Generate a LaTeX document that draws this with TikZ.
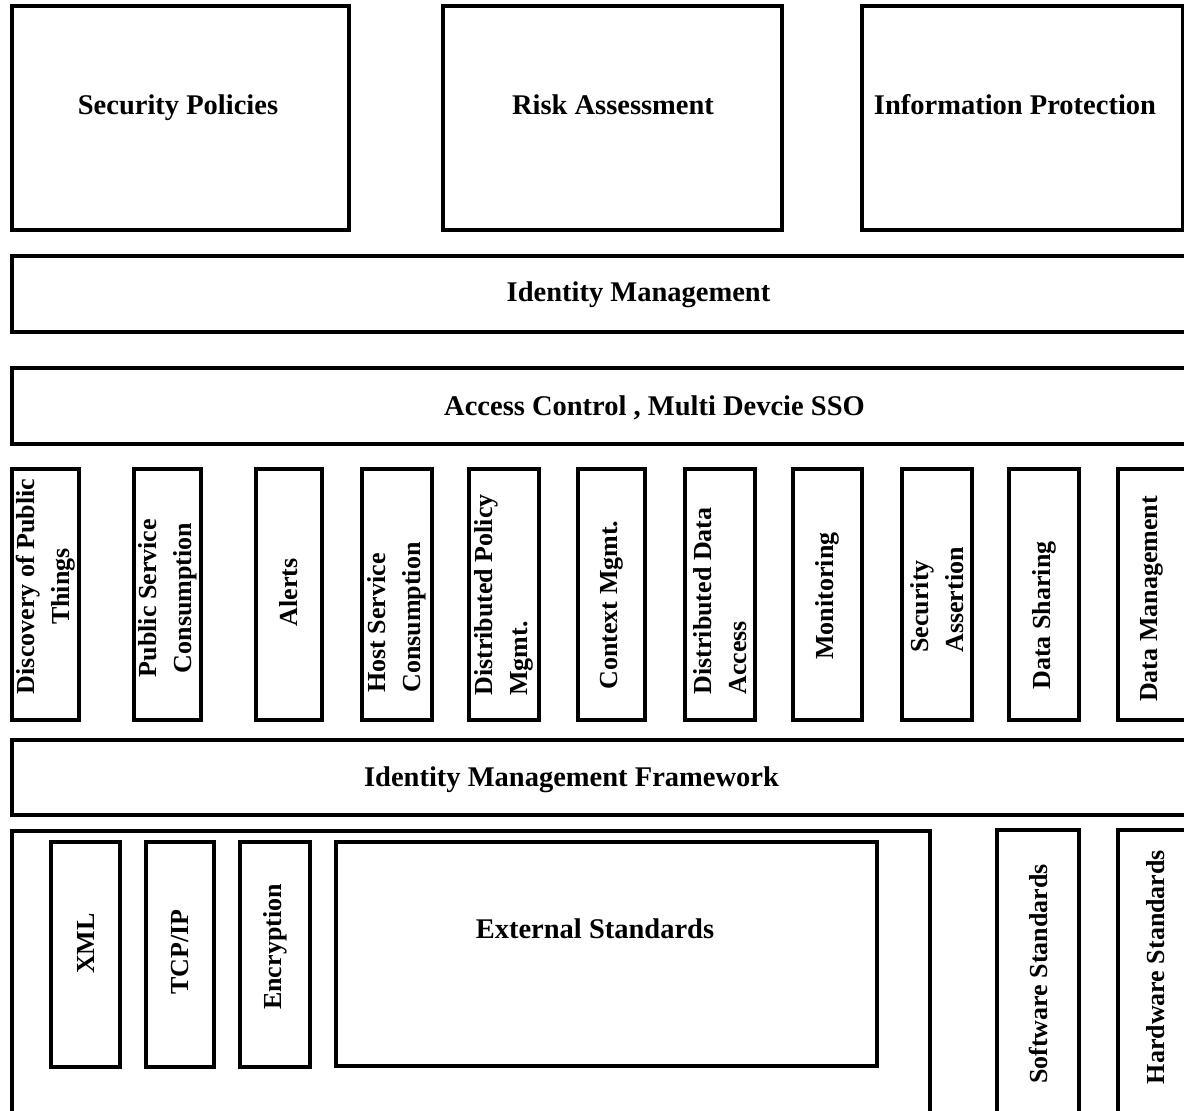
\documentclass[tikz,border=0pt]{standalone}
\usepackage{fontspec}
\setmainfont{Liberation Serif}
\newcommand\mybox[5]{\node[box, minimum width={#4-#2}, minimum height={#5-#3}] (#1) at ({(#2+#4)/2},{(#3+#5)/2}) {};}
\tikzset{
  box/.style={draw=black, line width=3.2pt, rectangle, inner sep=0pt, outer sep=0pt},
  htxt/.style={font=\bfseries\fontsize{28.5}{34}\selectfont, inner sep=0pt, anchor=base},
  vtxt/.style={font=\bfseries\fontsize{26}{35}\selectfont, inner sep=0pt, rotate=90, align=center},
  vtxtl/.style={vtxt, align=left}
}
\begin{document}
\begin{tikzpicture}[x=1pt,y=-1pt]
\useasboundingbox (0,0) rectangle (1184,1111);
\clip (0,0) rectangle (1184,1111);
\fill[white] (0,0) rectangle (1184,1111);
% top boxes
\mybox{sp}{12}{6}{349}{230}
\mybox{ra}{443}{6}{782}{230}
\mybox{ip}{862}{6}{1183}{230}
\node[htxt] (tsp) at (178,114) {Security Policies};
\node[htxt] (tra) at (613,114) {Risk Assessment};
\node[htxt] (tip) at (1015,114) {Information Protection};
% bands
\mybox{im}{12}{256}{1200}{332}
\node[htxt] (tim) at (638.5,301) {Identity Management};
\mybox{ac}{12}{368}{1200}{444}
\node[htxt] (tac) at (654.5,415) {Access Control , Multi Devcie SSO};
% vertical services
\mybox{v1}{12}{469}{79}{720}
\mybox{v2}{134}{469}{201}{720}
\mybox{v3}{256}{469}{322}{720}
\mybox{v4}{362}{469}{432}{720}
\mybox{v5}{469}{469}{539}{720}
\mybox{v6}{578}{469}{645}{720}
\mybox{v7}{685}{469}{755}{720}
\mybox{v8}{793}{469}{862}{720}
\mybox{v9}{902}{469}{972}{720}
\mybox{v10}{1009}{469}{1079}{720}
\mybox{v11}{1118}{469}{1186}{720}
\node[vtxt] (tv1) at (46,586.5) {Discovery of Public\\Things};
\node[vtxt] (tv2) at (167.5,598) {Public Service\\Consumption};
\node[vtxt] (tv3) at (289,592.5) {Alerts};
\node[vtxtl] (tv4) at (397,617.5) {Host Service\\Consumption};
\node[vtxtl] (tv5) at (504,595) {Distributed Policy\\Mgmt.};
\node[vtxt] (tv6) at (611.5,605) {Context Mgmt.};
\node[vtxtl] (tv7) at (720,601) {Distributed Data\\Access};
\node[vtxt] (tv8) at (827.5,596) {Monitoring};
\node[vtxtl] (tv9) at (937,600) {Security\\Assertion};
\node[vtxt] (tv10) at (1044,615.5) {Data Sharing};
\node[vtxt] (tv11) at (1152,599) {Data Management};
% framework band
\mybox{imf}{12}{740}{1200}{815}
\node[htxt] (timf) at (571.5,786) {Identity Management Framework};
% bottom
\mybox{std}{12}{831}{930}{1140}
\mybox{xml}{51}{842}{120}{1067}
\mybox{tcp}{146}{842}{214}{1067}
\mybox{enc}{240}{842}{310}{1067}
\mybox{ext}{336}{842}{877}{1066}
\node[vtxt] (txml) at (85.5,943.5) {XML};
\node[vtxt] (ttcp) at (180,952) {TCP/IP};
\node[vtxt] (tenc) at (275,947) {Encryption};
\node[htxt] (text) at (595,938) {External Standards};
\mybox{sw}{997}{830}{1079}{1140}
\mybox{hw}{1118}{830}{1187}{1140}
\node[vtxt] (tsw) at (1038,974) {Software Standards};
\node[vtxt] (thw) at (1156,967) {Hardware Standards};
\end{tikzpicture}
\end{document}
